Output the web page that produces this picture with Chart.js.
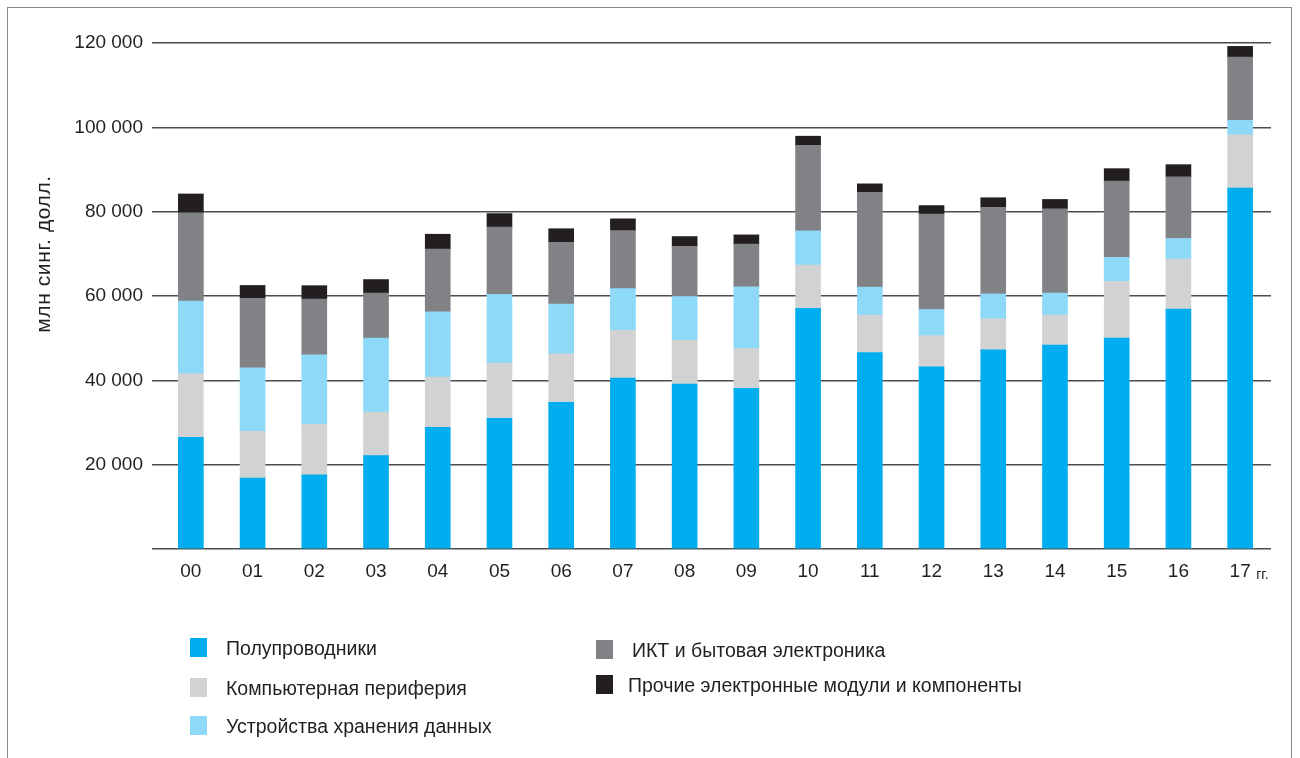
<!DOCTYPE html>
<html>
<head>
<meta charset="utf-8">
<script src="https://cdn.jsdelivr.net/npm/chart.js@4"></script>
<style>
  html, body { margin: 0; padding: 0; background: #fff; }
  body { width: 1300px; height: 758px; position: relative; overflow: hidden; font-family: "Liberation Sans", Arial, sans-serif; color: #231f20; }
  #frame { position: absolute; left: 7px; top: 7px; width: 1285px; height: 800px; border: 1px solid #8a8a8a; box-sizing: border-box; }
  #wrap { position: absolute; left: 0; top: 0; width: 1300px; height: 758px; }
  .lg { position: absolute; font-size: 19.5px; line-height: 20px; white-space: nowrap; }
  .lg i { position: absolute; left: 0; top: 0; width: 17px; height: 19px; }
  .lg span { position: absolute; top: 0; }
</style>
</head>
<body>
<div id="frame"></div>
<div id="wrap"><canvas id="myChart" width="1300" height="758"></canvas></div>
<div id="legend"></div>
<script>
const years = ['00','01','02','03','04','05','06','07','08','09','10','11','12','13','14','15','16','17'];
const semiconductors = [26500,16800,17600,22150,28850,31000,34800,40550,39100,38100,57050,46600,43200,47250,48350,50000,56900,85600];
const peripherals    = [15100,11100,11950,10350,11950,13050,11500,11300,10450,9450,10300,8800,7400,7350,7150,13450,11850,12600];
const storage        = [17200,15050,16500,17550,15450,16350,11800,9900,10300,14600,8100,6700,6200,5900,5200,5700,4900,3450];
const ictConsumer    = [20900,16500,13200,10650,14900,15950,14650,13750,11950,10150,20300,22500,22650,20550,19950,18100,14600,15000];
const otherModules   = [4500,3050,3200,3200,3500,3200,3200,2800,2300,2200,2150,2000,2000,2250,2250,2950,2900,2550];

const seriesNames = ['Полупроводники','Компьютерная периферия','Устройства хранения данных','ИКТ и бытовая электроника','Прочие электронные модули и компоненты'];
const seriesColors = ['#00adee','#d1d2d4','#8ed8f8','#808285','#231f20'];
const seriesData = [semiconductors, peripherals, storage, ictConsumer, otherModules];

const yTitle = 'млн синг. долл.';
const yearSuffix = 'гг.';

const fontFamily = '"Liberation Sans", Arial, sans-serif';
const textColor = '#231f20';

// extra texts: rotated y title and "гг." after the last year
const extraText = {
    id: 'extraText',
    afterDraw(chart) {
        const ctx = chart.ctx;
        ctx.save();
        ctx.fillStyle = textColor;
        ctx.font = '21px ' + fontFamily;
        ctx.letterSpacing = '0.6px';
        ctx.textAlign = 'center';
        ctx.textBaseline = 'middle';
        ctx.translate(44, 254);
        ctx.rotate(-Math.PI / 2);
        ctx.fillText(yTitle, 0, 0);
        ctx.restore();

        const x = chart.scales.x.getPixelForTick(years.length - 1);
        ctx.save();
        ctx.fillStyle = textColor;
        ctx.font = '14px ' + fontFamily;
        ctx.textAlign = 'left';
        ctx.textBaseline = 'middle';
        ctx.fillText(yearSuffix, x + 16, 575);
        ctx.restore();
    }
};

new Chart(document.getElementById('myChart').getContext('2d'), {
    type: 'bar',
    data: {
        labels: years,
        datasets: seriesNames.map((name, i) => ({
            label: name,
            data: seriesData[i],
            backgroundColor: seriesColors[i],
            borderWidth: 0,
            barThickness: 25
        }))
    },
    options: {
        responsive: false,
        animation: false,
        layout: { padding: { left: 0, top: 43, right: 29, bottom: 169 } },
        plugins: { legend: { display: false }, tooltip: { enabled: false } },
        scales: {
            x: {
                stacked: true,
                grid: { display: false, drawTicks: false },
                border: { display: false },
                ticks: { color: textColor, font: { size: 19, family: fontFamily }, padding: 11 },
                afterFit(scale) { scale.height = 40; }
            },
            y: {
                stacked: true,
                min: 0,
                max: 120000,
                grid: { color: '#4d4d4f', lineWidth: 1.5, tickLength: 8, drawTicks: true },
                border: { display: false },
                ticks: {
                    stepSize: 20000,
                    color: textColor,
                    padding: 9,
                    font: { size: 19, family: fontFamily },
                    callback: v => v === 0 ? '' : String(v).replace(/\B(?=(\d{3})+(?!\d))/g, ' ')
                },
                afterFit(scale) { scale.width = 160; }
            }
        }
    },
    plugins: [extraText]
});

// legend in two columns
const legendPos = [[190, 638], [190, 678], [190, 716], [596, 640], [596, 675]];
const legendTextX = [36, 36, 36, 36, 32];
const legend = document.getElementById('legend');
seriesNames.forEach((name, i) => {
    const d = document.createElement('div');
    d.className = 'lg';
    d.style.left = legendPos[i][0] + 'px';
    d.style.top = legendPos[i][1] + 'px';
    d.innerHTML = '<i style="background:' + seriesColors[i] + '"></i><span style="left:' + legendTextX[i] + 'px">' + name + '</span>';
    legend.appendChild(d);
});
</script>
</body>
</html>
